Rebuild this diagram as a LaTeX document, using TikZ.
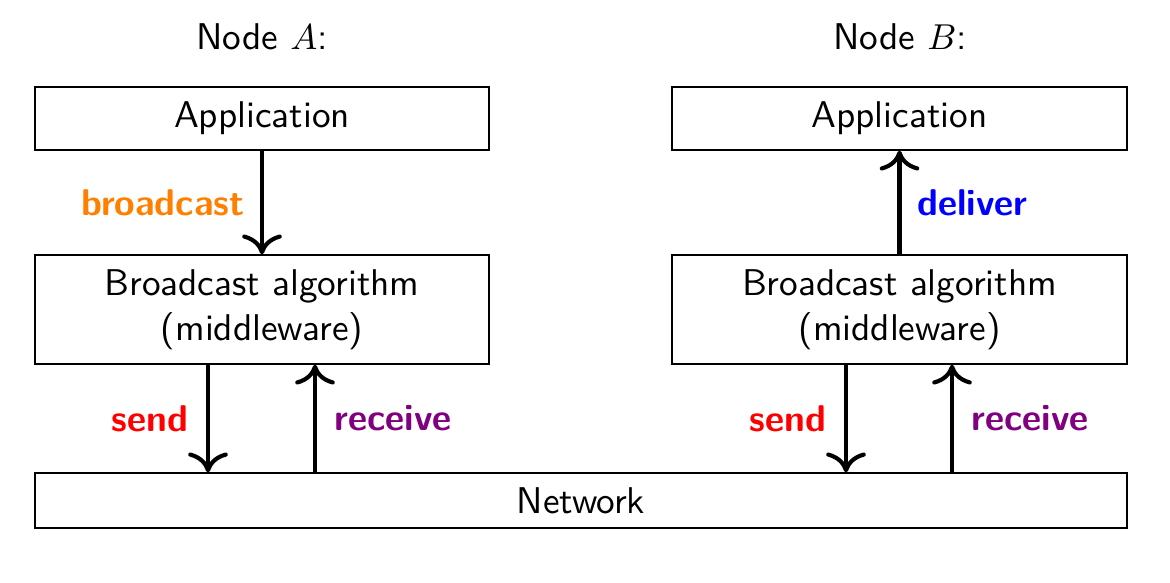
\documentclass[tikz,border=0pt]{standalone}
\usetikzlibrary{arrows.meta}
\definecolor{borange}{RGB}{255,128,0}
\definecolor{bpurple}{RGB}{128,0,128}
\begin{document}
\begin{tikzpicture}[x=0.2778pt,y=-0.2778pt,font=\fontsize{10.35}{12.4}\selectfont\sffamily,
  box/.style={draw,line width=0.4pt,inner sep=0pt},
  flow/.style={line width=1.15pt,-{To[length=5.5pt,width=11pt,line width=1.15pt]}},
  lbl/.style={font=\fontsize{10.35}{12.4}\selectfont\sffamily\bfseries}]
\useasboundingbox (0,0) rectangle (1170,582);
\node (na) at (262,37) {Node $A$:};
\node (nb) at (900,37) {Node $B$:};
\node[box,minimum width=454*0.2778pt,minimum height=63*0.2778pt] (appa) at (262,118.5) {Application};
\node[box,minimum width=455*0.2778pt,minimum height=63*0.2778pt] (appb) at (899.5,118.5) {Application};
\node[box,minimum width=454*0.2778pt,minimum height=109*0.2778pt,align=center] (bca) at (262,309.5) {Broadcast algorithm\\(middleware)};
\node[box,minimum width=455*0.2778pt,minimum height=109*0.2778pt,align=center] (bcb) at (899.5,309.5) {Broadcast algorithm\\(middleware)};
\node[box,minimum width=1092*0.2778pt,minimum height=55*0.2778pt] (net) at (581,500.5) {Network};
\draw[flow] (appa.south) -- (bca.north) node[midway,left=1pt,lbl,text=borange] {broadcast};
\draw[flow] (bcb.north) -- (appb.south) node[midway,right=1pt,lbl,text=blue] {deliver};
\draw[flow] (bca.south -| 208,0) -- (net.north -| 208,0) node[midway,left=1.5pt,lbl,text=red] {send};
\draw[flow] (net.north -| 315,0) -- (bca.south -| 315,0) node[midway,right=1.5pt,lbl,text=bpurple] {receive};
\draw[flow] (bcb.south -| 846,0) -- (net.north -| 846,0) node[midway,left=1.5pt,lbl,text=red] {send};
\draw[flow] (net.north -| 952,0) -- (bcb.south -| 952,0) node[midway,right=1.5pt,lbl,text=bpurple] {receive};
\end{tikzpicture}
\end{document}
